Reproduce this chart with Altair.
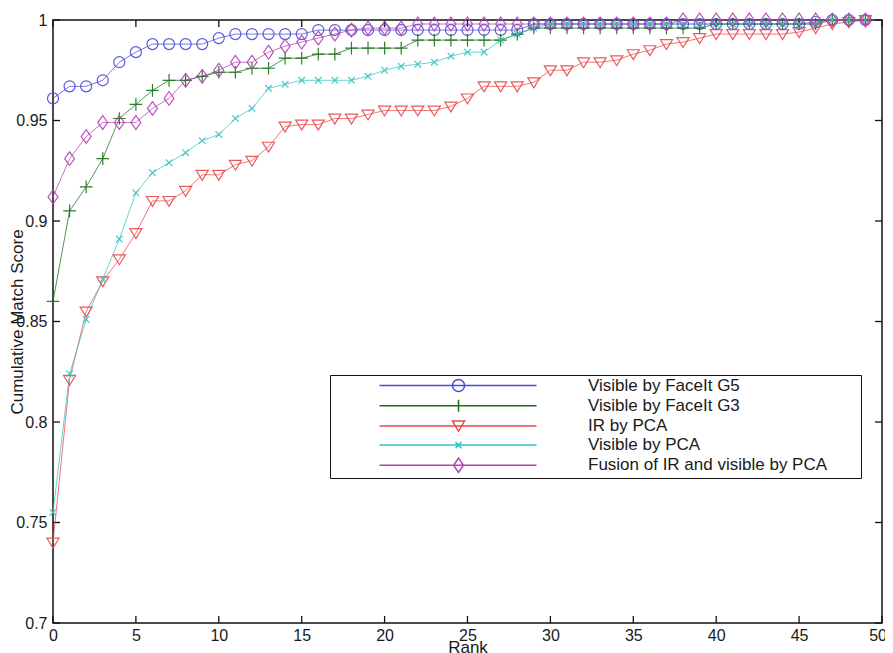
import altair as alt
import pandas as pd

# ---------------- data ----------------
ranks = list(range(50))
series_names = [
    "Visible by FaceIt G5",
    "Visible by FaceIt G3",
    "IR by PCA",
    "Visible by PCA",
    "Fusion of IR and visible by PCA",
]

g5 = [0.961, 0.967, 0.967, 0.970, 0.979, 0.984, 0.988, 0.988, 0.988, 0.988,
      0.991, 0.993, 0.993, 0.993, 0.993, 0.993, 0.995, 0.995, 0.995, 0.995,
      0.995, 0.995, 0.995, 0.995, 0.995, 0.995, 0.995, 0.995, 0.995, 0.998,
      0.998, 0.998, 0.998, 0.998, 0.998, 0.998, 0.998, 0.998, 0.998, 0.998,
      0.998, 0.998, 0.998, 0.998, 0.998, 0.998, 0.999, 1.000, 1.000, 1.000]

g3 = [0.860, 0.905, 0.917, 0.931, 0.951, 0.958, 0.965, 0.970, 0.970, 0.972,
      0.974, 0.974, 0.976, 0.976, 0.981, 0.981, 0.983, 0.983, 0.986, 0.986,
      0.986, 0.986, 0.990, 0.990, 0.990, 0.990, 0.990, 0.990, 0.993, 0.996,
      0.996, 0.996, 0.996, 0.996, 0.996, 0.996, 0.996, 0.996, 0.996, 0.996,
      0.998, 0.998, 0.998, 0.998, 0.998, 0.998, 0.998, 1.000, 1.000, 1.000]

ir_pca = [0.740, 0.821, 0.855, 0.870, 0.881, 0.894, 0.910, 0.910, 0.915, 0.923,
          0.923, 0.928, 0.930, 0.937, 0.947, 0.948, 0.948, 0.951, 0.951, 0.953,
          0.955, 0.955, 0.955, 0.955, 0.957, 0.961, 0.967, 0.967, 0.967, 0.969,
          0.975, 0.975, 0.979, 0.979, 0.980, 0.983, 0.985, 0.988, 0.989, 0.991,
          0.993, 0.993, 0.993, 0.993, 0.993, 0.994, 0.996, 0.998, 0.999, 1.000]

vis_pca = [0.755, 0.824, 0.851, 0.871, 0.891, 0.914, 0.924, 0.929, 0.934, 0.940,
           0.943, 0.951, 0.956, 0.966, 0.968, 0.970, 0.970, 0.970, 0.970, 0.972,
           0.975, 0.977, 0.978, 0.979, 0.982, 0.984, 0.984, 0.990, 0.993, 0.996,
           0.998, 0.998, 0.998, 0.998, 0.998, 0.998, 0.998, 0.998, 0.998, 0.998,
           0.998, 0.998, 0.998, 0.998, 0.998, 0.998, 0.998, 1.000, 1.000, 1.000]

fusion = [0.912, 0.931, 0.942, 0.949, 0.949, 0.949, 0.956, 0.961, 0.970, 0.972,
          0.975, 0.979, 0.979, 0.984, 0.987, 0.989, 0.991, 0.993, 0.995, 0.996,
          0.996, 0.996, 0.998, 0.998, 0.998, 0.998, 0.998, 0.998, 0.998, 0.998,
          0.998, 0.998, 0.998, 0.998, 0.998, 0.998, 0.998, 0.998, 1.000, 1.000,
          1.000, 1.000, 1.000, 1.000, 1.000, 1.000, 1.000, 1.000, 1.000, 1.000]

x_ticks = [0, 5, 10, 15, 20, 25, 30, 35, 40, 45, 50]
y_ticks = [0.7, 0.75, 0.8, 0.85, 0.9, 0.95, 1.0]

# ---------------- styling ----------------
colors = ["#4a4ad8", "#197019", "#e84a4a", "#36c4c4", "#b444b4"]
marker_paths = [
    "circle",
    "M-1.15,0L1.15,0M0,-1.15L0,1.15",
    "M-1.1,-0.8L1.1,-0.8L0,1Z",
    "M-0.6,-0.6L0.6,0.6M-0.6,0.6L0.6,-0.6",
    "M0,-1.25L0.9,0L0,1.25L-0.9,0Z",
]
# legend symbols: long line with the marker in its middle (units of 6 px)
legend_paths = [
    "M6.5,0L32.67,0M20.67,0A1,1 0 1,1 18.67,0A1,1 0 1,1 20.67,0",
    "M6.5,0L32.67,0M19.67,-1L19.67,1",
    "M6.5,0L32.67,0M18.67,-0.8L20.67,-0.8L19.67,0.9Z",
    "M6.5,0L32.67,0M19.17,-0.5L20.17,0.5M19.17,0.5L20.17,-0.5",
    "M6.5,0L32.67,0M19.67,-1.2L20.5,0L19.67,1.2L18.84,0Z",
]

FONT = "Liberation Sans"
W, H = 829, 603
X_MIN, X_MAX = 0, 50
Y_MIN, Y_MAX = 0.7, 1.0
TICK_PX = 7
ylen = (Y_MAX - Y_MIN) * TICK_PX / H
xlen = (X_MAX - X_MIN) * TICK_PX / W

rows = []
for name, vals in zip(series_names, [g5, g3, ir_pca, vis_pca, fusion]):
    for r, v in zip(ranks, vals):
        rows.append({"rank": r, "score": v, "series": name})
df = pd.DataFrame(rows)

tick_rows = []
for t in x_ticks:
    tick_rows.append({"x": t, "x2": t, "y": Y_MIN, "y2": Y_MIN + ylen})
    tick_rows.append({"x": t, "x2": t, "y": Y_MAX, "y2": Y_MAX - ylen})
for t in y_ticks:
    tick_rows.append({"x": X_MIN, "x2": X_MIN + xlen, "y": t, "y2": t})
    tick_rows.append({"x": X_MAX, "x2": X_MAX - xlen, "y": t, "y2": t})
ticks_df = pd.DataFrame(tick_rows)

x_scale = alt.Scale(domain=[X_MIN, X_MAX], nice=False, zero=False)
y_scale = alt.Scale(domain=[Y_MIN, Y_MAX], nice=False, zero=False)
color_scale = alt.Scale(domain=series_names, range=colors)
shape_scale = alt.Scale(domain=series_names, range=legend_paths)

x_axis = alt.Axis(
    values=x_ticks, grid=False, ticks=False, tickSize=0, domain=False,
    labelPadding=4, labelFontSize=16, labelFont=FONT, labelColor="#1a1a1a",
    labelFlush=True, labelFlushOffset=4.5,
    title="Rank", titleFont=FONT, titleFontSize=17, titleFontWeight="normal",
    titleColor="#1a1a1a", titleX=W / 2, titleY=29, titleBaseline="alphabetic",
    titleAlign="center",
)
y_axis = alt.Axis(
    values=y_ticks, format="~g", grid=False, ticks=False, tickSize=0, domain=False,
    labelPadding=6, labelFontSize=16, labelFont=FONT, labelColor="#1a1a1a",
    labelFlush=False,
    title="Cumulative Match Score", titleFont=FONT, titleFontSize=17,
    titleFontWeight="normal", titleColor="#1a1a1a", titleX=-36, titleY=H / 2,
    titleAngle=270, titleBaseline="middle", titleAlign="center",
)

ticks_layer = alt.Chart(ticks_df).mark_rule(color="#111111", strokeWidth=1.3).encode(
    x=alt.X("x:Q", scale=x_scale, axis=x_axis),
    x2="x2:Q",
    y=alt.Y("y:Q", scale=y_scale, axis=y_axis),
    y2="y2:Q",
)

# invisible title on the right only widens the legend box
legend = alt.Legend(
    title=".", titleOrient="right", titleOpacity=0, titleFontSize=6, titlePadding=30,
    orient="none", legendX=277, legendY=355, padding=2,
    strokeColor="#111111", fillColor="white",
    symbolSize=144, symbolStrokeWidth=1.5, symbolFillColor="transparent",
    symbolOpacity=1,
    labelOffset=239, labelFontSize=17, labelFont=FONT, labelColor="#1a1a1a",
    labelLimit=600, rowPadding=1.2,
)

lines = alt.Chart(df).mark_line(strokeWidth=1, opacity=0.75).encode(
    x=alt.X("rank:Q", scale=x_scale),
    y=alt.Y("score:Q", scale=y_scale),
    color=alt.Color("series:N", scale=color_scale, legend=legend),
    detail="series:N",
)

point_layers = []
for name, path in zip(series_names, marker_paths):
    point_layers.append(
        alt.Chart(df).transform_filter(alt.datum.series == name)
        .mark_point(filled=False, size=121, strokeWidth=1.2, opacity=0.9, shape=path)
        .encode(
            x=alt.X("rank:Q", scale=x_scale),
            y=alt.Y("score:Q", scale=y_scale),
            color=alt.Color("series:N", scale=color_scale, legend=legend),
        )
    )

# legend-only layer (no visible marks): line + marker symbols
legend_layer = alt.Chart(df).transform_filter(alt.datum.rank < 0).mark_point(
    filled=False, size=144
).encode(
    x=alt.X("rank:Q", scale=x_scale),
    y=alt.Y("score:Q", scale=y_scale),
    color=alt.Color("series:N", scale=color_scale, legend=legend),
    shape=alt.Shape("series:N", scale=shape_scale, legend=legend),
)

chart = alt.layer(ticks_layer, lines, *point_layers, legend_layer).properties(
    width=W, height=H,
    padding={"left": 45, "top": 12, "right": 3, "bottom": 30},
    autosize=alt.AutoSizeParams(type="none"),
    background="white",
).configure_view(stroke="#111111", strokeWidth=1.5)

chart.save("out.html", embed_options={"renderer": "svg", "actions": False})
